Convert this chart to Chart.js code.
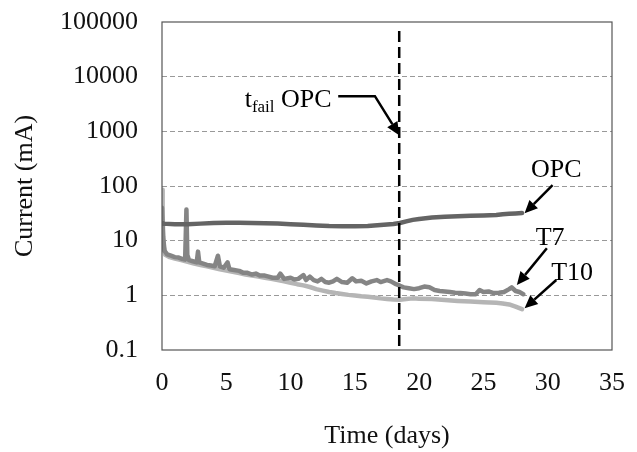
<!DOCTYPE html>
<html lang="en">
<head>
<meta charset="UTF-8">
<title>Current vs time</title>
<script src="https://cdn.jsdelivr.net/npm/chart.js@4.4.0/dist/chart.umd.min.js"></script>
<style>
    html, body { margin: 0; padding: 0; background: #fff; }
    .chart-box { position: relative; width: 637px; height: 452px; }
</style>
</head>
<body>
<div class="chart-box"><canvas id="currentChart"></canvas></div>
<script>
// axis ticks
const yTicks = [0.1, 1, 10, 100, 1000, 10000, 100000];
const yTickLabels = ['0.1', '1', '10', '100', '1000', '10000', '100000'];
const xTicks = [0, 5, 10, 15, 20, 25, 30, 35];

// OPC
const opcDays = [0, 0.05, 1, 2, 3, 4, 5, 6, 7, 8, 9, 10, 11, 12, 13, 14, 15, 16, 17, 18, 18.5, 19, 19.5, 20, 21, 22, 23, 24, 25, 26, 26.5, 27, 27.5, 28];
const opcCurrent = [21, 20.5, 20, 20, 20.5, 21, 21.2, 21.2, 21, 20.8, 20.5, 20, 19.5, 19, 18.5, 18.3, 18.3, 18.6, 19.3, 20.2, 21, 22.5, 24, 25, 26.5, 27.5, 28, 28.5, 29, 29.5, 30.5, 31, 31.5, 32];

// T7 (noisy)
const t7Days = [0, 0.08, 0.2, 0.4, 0.7, 1.0, 1.3, 1.6, 1.8, 1.9, 1.97, 2.1, 2.4, 2.7, 2.8, 2.9, 3.2, 3.5, 3.8, 4.1, 4.35, 4.5, 4.8, 5.1, 5.25, 5.6, 6.0, 6.3, 6.6, 7.0, 7.3, 7.6, 8.0, 8.3, 8.6, 9.0, 9.2, 9.5, 10.0, 10.3, 10.6, 11.0, 11.2, 11.5, 11.8, 12.1, 12.4, 12.7, 13.0, 13.3, 13.6, 14.0, 14.4, 14.8, 15.1, 15.5, 15.9, 16.3, 16.7, 17.0, 17.5, 17.8, 18.2, 18.5, 18.8, 19.2, 19.6, 20.0, 20.4, 20.8, 21.2, 21.6, 22.0, 22.4, 22.8, 23.2, 23.6, 24.0, 24.4, 24.7, 25.0, 25.4, 25.8, 26.2, 26.6, 27.0, 27.2, 27.5, 27.8, 28.1];
const t7Current = [40, 12, 6.5, 5.6, 5.3, 5.0, 4.9, 4.6, 4.5, 37, 5.5, 4.4, 4.2, 4.0, 6.3, 4.0, 3.8, 3.6, 3.5, 3.4, 5.3, 3.4, 3.2, 4.0, 3.0, 2.9, 2.8, 2.6, 2.6, 2.4, 2.5, 2.3, 2.3, 2.2, 2.1, 2.1, 2.5, 2.0, 2.1, 1.95, 2.0, 2.35, 1.9, 2.2, 1.9, 1.8, 2.0, 1.75, 1.7, 1.8, 2.0, 1.75, 1.7, 2.05, 1.8, 1.85, 1.65, 1.8, 1.9, 1.75, 1.9, 1.8, 1.6, 1.5, 1.4, 1.35, 1.3, 1.35, 1.45, 1.4, 1.25, 1.2, 1.18, 1.15, 1.12, 1.1, 1.08, 1.05, 1.05, 1.25, 1.15, 1.18, 1.1, 1.12, 1.15, 1.3, 1.4, 1.2, 1.15, 1.05];

// T10 (smooth)
const t10Days = [0, 0.05, 0.12, 0.25, 0.6, 1.0, 1.5, 2.0, 2.5, 3.0, 3.5, 4.0, 4.5, 5.0, 5.5, 6.0, 6.5, 7.0, 7.5, 8.0, 8.5, 9.0, 9.5, 10.0, 10.5, 11.0, 11.5, 12.0, 12.5, 13.0, 13.5, 14.0, 14.5, 15.0, 15.5, 16.0, 16.5, 17.0, 17.5, 18.0, 18.5, 19.0, 19.5, 20, 21, 22, 23, 24, 25, 26, 26.5, 27, 27.5, 28];
const t10Current = [85, 30, 8, 5.5, 5.0, 4.7, 4.4, 4.1, 3.8, 3.6, 3.4, 3.2, 3.0, 2.85, 2.7, 2.55, 2.4, 2.3, 2.2, 2.1, 2.0, 1.9, 1.8, 1.7, 1.6, 1.52, 1.42, 1.3, 1.22, 1.15, 1.1, 1.06, 1.02, 0.99, 0.96, 0.94, 0.91, 0.88, 0.86, 0.84, 0.83, 0.86, 0.88, 0.87, 0.86, 0.82, 0.79, 0.77, 0.75, 0.73, 0.71, 0.68, 0.62, 0.56];

const tFailOpc = 18.45;

const FONT = 'Liberation Serif, "Times New Roman", serif';
const toPoints = (xs, ys) => xs.map((x, i) => ({ x: x, y: ys[i] }));

// arrow callouts: tip anchored in data units, tail/label offsets in px
const callouts = [
    { text: 'OPC', x: 28.2, y: 31.6, path: [[28, -28.3]], label: [31.7, -36.3] },
    { text: 'T7', x: 27.6, y: 1.55, path: [[30, -36.7]], label: [33.3, -40] },
    { text: 'T10', x: 28.2, y: 0.58, path: [[31.7, -28.3]], label: [47.5, -28.3] },
    { text: 'OPC', sub: 'fail', x: tFailOpc, y: 850, path: [[-61, -39], [-24.3, -39]], label: [-67.6, -27.7] }
];

function drawArrow(ctx, pts) {
    const n = pts.length;
    const [tx, ty] = pts[n - 1];
    const [px, py] = pts[n - 2];
    const ang = Math.atan2(ty - py, tx - px);
    const headLen = 13, headW = 6;
    const bx = tx - Math.cos(ang) * headLen, by = ty - Math.sin(ang) * headLen;
    ctx.beginPath();
    ctx.moveTo(pts[0][0], pts[0][1]);
    for (let i = 1; i < n - 1; i++) ctx.lineTo(pts[i][0], pts[i][1]);
    ctx.lineTo(bx, by);
    ctx.stroke();
    ctx.beginPath();
    ctx.moveTo(tx, ty);
    ctx.lineTo(bx + Math.sin(ang) * headW, by - Math.cos(ang) * headW);
    ctx.lineTo(bx - Math.sin(ang) * headW, by + Math.cos(ang) * headW);
    ctx.closePath();
    ctx.fill();
}

const extrasPlugin = {
    id: 'extras',
    afterDatasetsDraw(chart) {
        const { ctx, chartArea: a, scales: { x, y } } = chart;
        ctx.save();
        // failure time line
        const fx = x.getPixelForValue(tFailOpc);
        ctx.strokeStyle = '#000';
        ctx.lineWidth = 2.5;
        ctx.setLineDash([11, 5]);
        ctx.beginPath();
        ctx.moveTo(fx, a.top + 9);
        ctx.lineTo(fx, a.bottom);
        ctx.stroke();
        ctx.setLineDash([]);

        // frame
        ctx.strokeStyle = '#555';
        ctx.lineWidth = 1.2;
        ctx.strokeRect(a.left, a.top, a.right - a.left, a.bottom - a.top);

        // callouts
        ctx.fillStyle = '#000';
        ctx.strokeStyle = '#000';
        ctx.lineWidth = 2.5;
        callouts.forEach(c => {
            const tx = x.getPixelForValue(c.x), ty = y.getPixelForValue(c.y);
            const pts = c.path.map(p => [tx + p[0], ty + p[1]]);
            pts.push([tx, ty]);
            drawArrow(ctx, pts);
            const lx = tx + c.label[0], ly = ty + c.label[1];
            ctx.textBaseline = 'alphabetic';
            if (c.sub) {
                ctx.font = '26px ' + FONT;
                const wMain = ctx.measureText(' ' + c.text).width;
                const wT = ctx.measureText('t').width;
                ctx.font = '17px ' + FONT;
                const wSub = ctx.measureText(c.sub).width;
                let sx = lx - wMain - wSub - wT;
                ctx.textAlign = 'left';
                ctx.font = '26px ' + FONT;
                ctx.fillText('t', sx, ly);
                ctx.font = '17px ' + FONT;
                ctx.fillText(c.sub, sx + wT, ly + 5);
                ctx.font = '26px ' + FONT;
                ctx.fillText(' ' + c.text, sx + wT + wSub, ly);
            } else {
                ctx.font = '26px ' + FONT;
                ctx.textAlign = 'center';
                ctx.fillText(c.text, lx, ly);
            }
        });
        ctx.restore();
    }
};

const tickFont = { family: FONT, size: 26 };

new Chart(document.getElementById('currentChart'), {
    type: 'line',
    data: {
        datasets: [
            { label: 'OPC', data: toPoints(opcDays, opcCurrent), borderColor: '#646464', borderWidth: 4.5 },
            { label: 'T7', data: toPoints(t7Days, t7Current), borderColor: '#858585', borderWidth: 4.5 },
            { label: 'T10', data: toPoints(t10Days, t10Current), borderColor: '#b5b5b5', borderWidth: 4.5 }
        ]
    },
    options: {
        responsive: true,
        maintainAspectRatio: false,
        animation: false,
        layout: { padding: { top: 22, right: 25, left: 0, bottom: 0 } },
        elements: { point: { radius: 0 }, line: { tension: 0, fill: false, borderJoinStyle: 'round', borderCapStyle: 'round' } },
        plugins: { legend: { display: false }, tooltip: { enabled: false } },
        scales: {
            x: {
                type: 'linear',
                min: xTicks[0],
                max: xTicks[xTicks.length - 1],
                afterBuildTicks: s => { s.ticks = xTicks.map(v => ({ value: v })); },
                afterFit: s => { s.height = 102; s.paddingLeft = 0; s.paddingRight = 0; },
                grid: { display: false, drawTicks: false },
                border: { display: false },
                ticks: { font: tickFont, color: '#111', padding: 18, maxRotation: 0, autoSkip: false },
                title: { display: true, text: 'Time (days)', font: tickFont, color: '#111', padding: { top: 0, bottom: 0 } }
            },
            y: {
                type: 'logarithmic',
                min: yTicks[0],
                max: yTicks[yTicks.length - 1],
                afterBuildTicks: s => { s.ticks = yTicks.map(v => ({ value: v })); },
                afterFit: s => { s.width = 162; s.paddingTop = 0; s.paddingBottom = 0; },
                grid: {
                    drawTicks: false,
                    color: '#999',
                    lineWidth: c => (c.index === 0 || c.index === yTicks.length - 1) ? 0 : 1
                },
                border: { display: false, dash: [5, 3] },
                ticks: {
                    font: tickFont, color: '#111', padding: 24, autoSkip: false,
                    callback: (v, i) => yTickLabels[i]
                },
                title: { display: true, text: 'Current (mA)', font: tickFont, color: '#111', padding: { top: 10, bottom: 0 } }
            }
        }
    },
    plugins: [extrasPlugin]
});
</script>
</body>
</html>
